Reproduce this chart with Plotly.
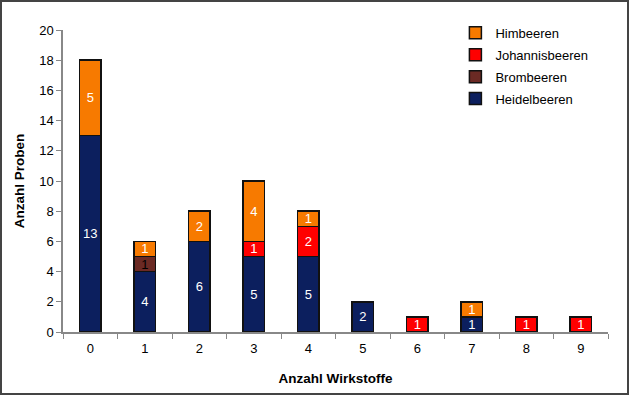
import plotly.graph_objects as go

categories = ["0", "1", "2", "3", "4", "5", "6", "7", "8", "9"]
heidelbeeren = [13, 4, 6, 5, 5, 2, 0, 1, 0, 0]
brombeeren = [0, 1, 0, 0, 0, 0, 0, 0, 0, 0]
johannisbeeren = [0, 0, 0, 1, 2, 0, 1, 0, 1, 1]
himbeeren = [5, 1, 2, 4, 1, 0, 0, 1, 0, 0]

series = [
    ("Heidelbeeren", heidelbeeren, "#0c1f5e", "white", 4),
    ("Brombeeren", brombeeren, "#6b2a24", "black", 3),
    ("Johannisbeeren", johannisbeeren, "#ff0000", "white", 2),
    ("Himbeeren", himbeeren, "#f77a00", "white", 1),
]

W, H = 629, 395
ml, mr, mt, mb = 63, 21, 30, 63

fig = go.Figure()
for name, vals, color, tcolor, rank in series:
    y = [v if v else None for v in vals]
    fig.add_trace(go.Bar(
        x=categories, y=y, name=name, legendgroup=name, legendrank=rank,
        marker=dict(color=color, line=dict(color="#111111", width=1.5)),
        text=[str(v) if v else "" for v in vals],
        textposition="inside", insidetextanchor="middle", textangle=0,
        textfont=dict(color=tcolor, size=13, family="Liberation Sans, Arial"),
        constraintext="none", cliponaxis=False,
        width=0.4,
    ))

pw = W - ml - mr
ph = H - mt - mb
fig.add_shape(type="rect", xref="paper", yref="paper",
              x0=-(ml - 1) / pw, x1=1 + (mr - 1) / pw,
              y0=-(mb - 1) / ph, y1=1 + (mt - 1) / ph,
              line=dict(color="#444444", width=2))

fig.update_layout(
    width=W, height=H,
    margin=dict(l=ml, r=mr, t=mt, b=mb, autoexpand=False),
    barmode="stack",
    plot_bgcolor="white", paper_bgcolor="white",
    font=dict(family="Liberation Sans, Arial", size=13, color="black"),
    uniformtext=dict(minsize=8, mode="show"),
    legend=dict(x=0.72, y=1.04, xanchor="left", yanchor="top",
                traceorder="grouped", bgcolor="rgba(0,0,0,0)",
                font=dict(size=13), itemwidth=30, tracegroupgap=2),
    showlegend=True,
)
fig.update_xaxes(
    type="category", range=[-0.5, 9.5], automargin=False,
    showline=True, linecolor="#888888", linewidth=1.5,
    ticks="outside", tickson="boundaries", ticklen=5, tickcolor="#888888",
    tickfont=dict(size=13), ticklabelstandoff=4,
    title=dict(text="<b>Anzahl Wirkstoffe</b>", font=dict(size=13.5), standoff=18),
    showgrid=False,
)
fig.update_yaxes(
    range=[0, 20], dtick=2, automargin=False,
    showline=True, linecolor="#888888", linewidth=1.5,
    ticks="outside", ticklen=5, tickcolor="#888888",
    tickfont=dict(size=13),
    title=dict(text="<b>Anzahl Proben</b>", font=dict(size=13.5), standoff=11),
    showgrid=False, zeroline=False,
)

fig.write_html("out.html", post_script="document.body.style.margin='0px';",
               config={"displayModeBar": False})
